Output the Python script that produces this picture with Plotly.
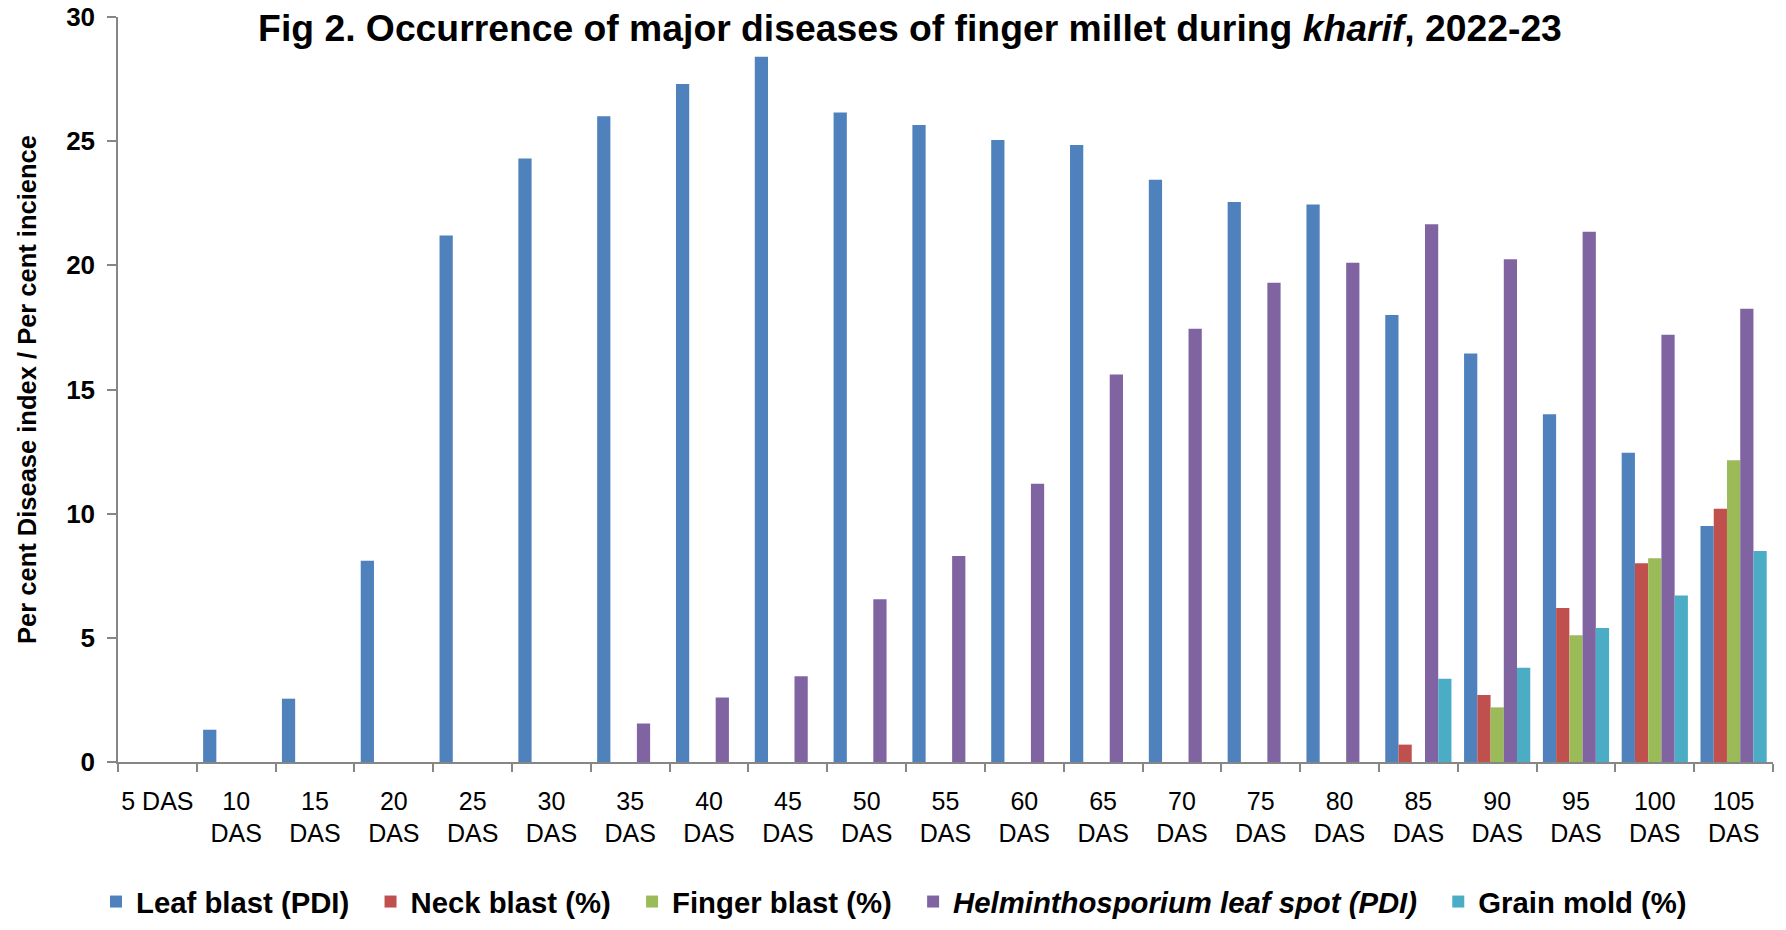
import plotly.graph_objects as go

categories = ["5 DAS", "10<br>DAS", "15<br>DAS", "20<br>DAS", "25<br>DAS", "30<br>DAS",
              "35<br>DAS", "40<br>DAS", "45<br>DAS", "50<br>DAS", "55<br>DAS", "60<br>DAS",
              "65<br>DAS", "70<br>DAS", "75<br>DAS", "80<br>DAS", "85<br>DAS", "90<br>DAS",
              "95<br>DAS", "100<br>DAS", "105<br>DAS"]

leaf_blast = [0, 1.3, 2.55, 8.1, 21.2, 24.3, 26.0, 27.3, 28.4, 26.15, 25.65, 25.05,
              24.85, 23.45, 22.55, 22.45, 18.0, 16.45, 14.0, 12.45, 9.5]
neck_blast = [0, 0, 0, 0, 0, 0, 0, 0, 0, 0, 0, 0, 0, 0, 0, 0, 0.7, 2.7, 6.2, 8.0, 10.2]
finger_blast = [0, 0, 0, 0, 0, 0, 0, 0, 0, 0, 0, 0, 0, 0, 0, 0, 0, 2.2, 5.1, 8.2, 12.15]
helminthosporium = [0, 0, 0, 0, 0, 0, 1.55, 2.6, 3.45, 6.55, 8.3, 11.2, 15.6, 17.45,
                    19.3, 20.1, 21.65, 20.25, 21.35, 17.2, 18.25]
grain_mold = [0, 0, 0, 0, 0, 0, 0, 0, 0, 0, 0, 0, 0, 0, 0, 0, 3.35, 3.8, 5.4, 6.7, 8.5]

series_names = ["Leaf blast (PDI)", "Neck blast (%)", "Finger blast (%)",
                "<i>Helminthosporium leaf spot (PDI)</i>", "Grain mold (%)"]
series_values = [leaf_blast, neck_blast, finger_blast, helminthosporium, grain_mold]
colors = ["#4F81BD", "#C0504D", "#9BBB59", "#8064A2", "#4BACC6"]

FONT = "Liberation Sans, Arial, sans-serif"
pad = "\u00a0\u00a0"

W, H = 1786, 930

fig = go.Figure()
for name, vals, col in zip(series_names, series_values, colors):
    fig.add_trace(go.Bar(x=categories, y=vals, name=name + pad,
                         marker=dict(color=col, line=dict(width=0))))

axis_col = "#868686"
fig.update_layout(
    width=W, height=H,
    barmode="group", bargap=0.16, bargroupgap=0,
    plot_bgcolor="white", paper_bgcolor="white",
    margin=dict(l=118, r=13, t=17, b=168, autoexpand=False),
    font=dict(family=FONT, color="black"),
    title=dict(text="Fig 2. Occurrence of major diseases of finger millet during <i>kharif</i>, 2022-23",
               font=dict(family=FONT, size=37.3, weight="bold", color="black"),
               xref="container", x=910 / W, xanchor="center",
               yref="container", y=1 - 28 / H, yanchor="middle"),
    showlegend=True,
    legend=dict(orientation="h", xref="container", x=96 / W, xanchor="left",
                yref="container", y=1 - 902 / H, yanchor="middle",
                font=dict(family=FONT, size=29.3, weight="bold", color="black"),
                bgcolor="rgba(0,0,0,0)", tracegroupgap=0),
    xaxis=dict(showline=True, linecolor=axis_col, linewidth=1.5,
               ticks="outside", tickson="boundaries", ticklen=8, tickcolor=axis_col, tickwidth=1.5,
               tickfont=dict(family=FONT, size=25, color="black"),
               ticklabelstandoff=16, showgrid=False, tickangle=0, automargin=False),
    yaxis=dict(range=[0, 30], dtick=5, showline=True, linecolor=axis_col, linewidth=1.5,
               ticks="outside", ticklen=9, tickcolor=axis_col, tickwidth=1.5,
               tickfont=dict(family=FONT, size=26, weight="bold", color="black"),
               ticklabelstandoff=7, ticklabeloverflow="allow",
               showgrid=False, zeroline=False, automargin=False,
               title=dict(text="Per cent Disease index / Per cent incience",
                          font=dict(family=FONT, size=25.5, weight="bold", color="black"),
                          standoff=22)),
)

# remove the default page margin so the figure fills the window exactly
fig.write_html("out.html", config={"displayModeBar": False},
               post_script="document.body.style.margin='0';")
